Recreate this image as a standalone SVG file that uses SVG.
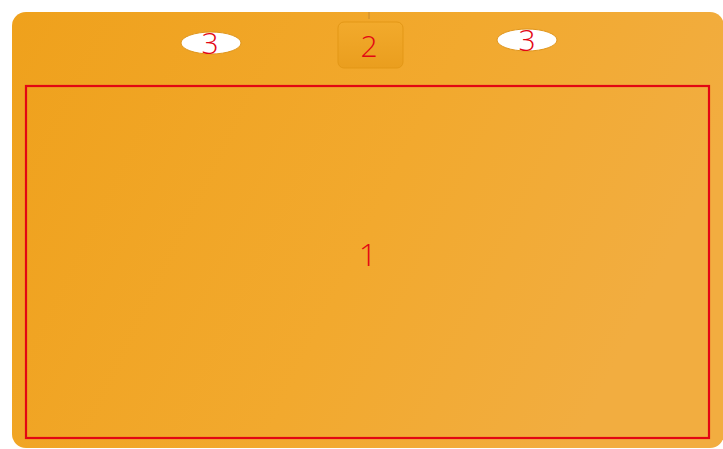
<svg xmlns="http://www.w3.org/2000/svg" width="723" height="449" viewBox="0 0 723 449">
<defs>
<linearGradient id="mat" x1="0" y1="0" x2="1" y2="0.3">
<stop offset="0" stop-color="#EFA11C"/>
<stop offset="0.6" stop-color="#F2A92E"/>
<stop offset="1" stop-color="#F2AD40"/>
</linearGradient>
<linearGradient id="tab" x1="0" y1="0" x2="0" y2="1">
<stop offset="0" stop-color="#F2AA2C"/>
<stop offset="1" stop-color="#EA9E1E"/>
</linearGradient>
<style>
.lbl{font-family:"Open Sans","Liberation Sans",sans-serif;font-weight:300;fill:#E30613;text-anchor:middle}
.hole{fill:#FFFFFF;stroke:#E0961C;stroke-width:1}
</style>
</defs>
<rect width="723" height="449" fill="#FFFFFF"/>
<g id="mat-body">
<rect x="12" y="12" width="712" height="436" rx="14" fill="url(#mat)"/>
<line x1="369" y1="12" x2="369" y2="19" stroke="#C88A2E" stroke-width="1"/>
</g>
<g id="tab-2">
<rect x="338" y="22" width="65" height="46" rx="6" fill="url(#tab)" stroke="#E39716" stroke-width="1"/>
<text class="lbl" x="369" y="57" font-size="30">2</text>
</g>
<g id="hole-left">
<ellipse class="hole" cx="211" cy="43" rx="30" ry="11"/>
<text class="lbl" x="210" y="54" font-size="30">3</text>
</g>
<g id="hole-right">
<ellipse class="hole" cx="527" cy="40" rx="30" ry="11"/>
<text class="lbl" x="527" y="51" font-size="30">3</text>
</g>
<g id="area-1">
<rect x="26" y="86" width="683" height="352" fill="none" stroke="#E30613" stroke-width="2.2"/>
<text class="lbl" x="368" y="266" font-size="32">1</text>
</g>
</svg>
